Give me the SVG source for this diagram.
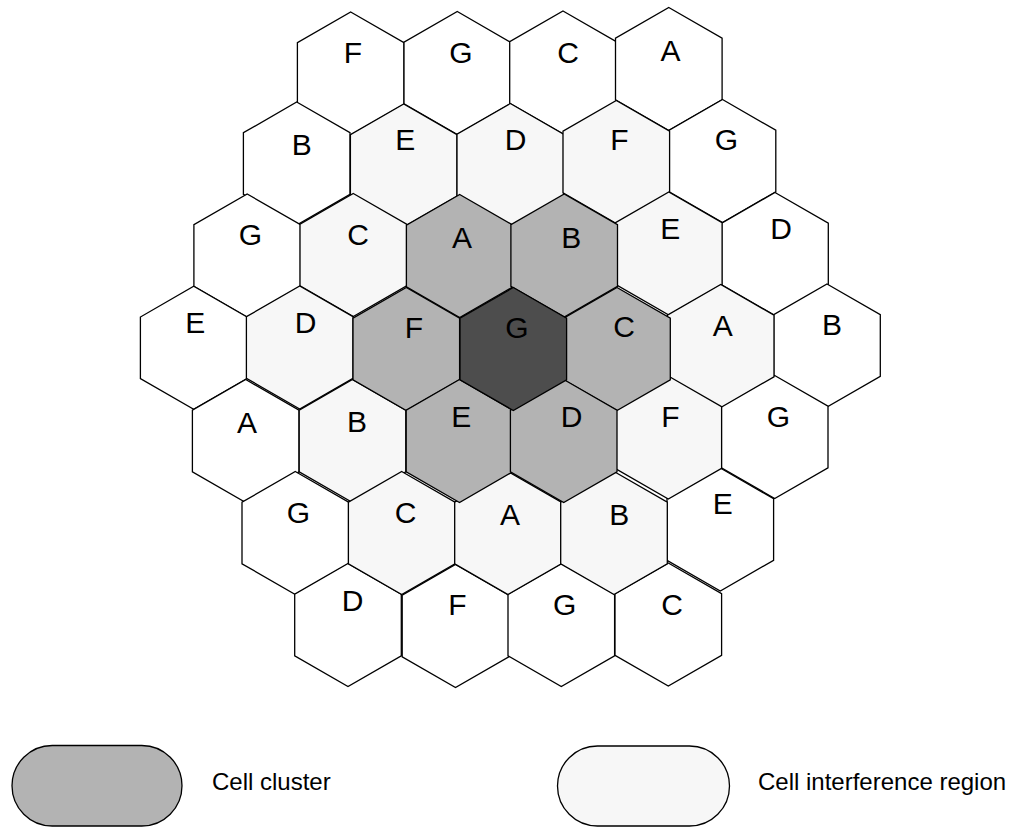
<svg xmlns="http://www.w3.org/2000/svg" width="1010" height="827" viewBox="0 0 1010 827">
<style>
.h{stroke:#000;stroke-width:1.3;stroke-linejoin:miter}
.w{fill:#ffffff}
.l{fill:#f7f7f7}
.c{fill:#b3b3b3}
.d{fill:#4d4d4d}
.t{font-family:"Liberation Sans",Arial,sans-serif;font-size:30px;fill:#000;text-anchor:middle}
.lg{font-family:"Liberation Sans",Arial,sans-serif;font-size:24px;fill:#000}
</style>
<defs>
<polygon id="hex" points="0,-61.5 53.3,-30.75 53.3,30.75 0,61.5 -53.3,30.75 -53.3,-30.75"/>
</defs>
<rect width="1010" height="827" fill="#fff"/>
<g id="cells-outer">
<g id="r0-F"><use href="#hex" class="h w" x="350.7" y="73.5"/><text class="t" x="352.8" y="63.3">F</text></g>
<g id="r0-G"><use href="#hex" class="h w" x="457.3" y="73"/><text class="t" x="460.8" y="63.3">G</text></g>
<g id="r0-C"><use href="#hex" class="h w" x="563" y="72.5"/><text class="t" x="568.2" y="63.3">C</text></g>
<g id="r0-A"><use href="#hex" class="h w" x="668.8" y="69"/><text class="t" x="670.5" y="61">A</text></g>
<g id="r1-B"><use href="#hex" class="h w" x="296.7" y="163.5"/><text class="t" x="301.7" y="155">B</text></g>
<g id="r1-G"><use href="#hex" class="h w" x="722.5" y="161"/><text class="t" x="726.3" y="150">G</text></g>
<g id="r2-G"><use href="#hex" class="h w" x="247.2" y="255.5"/><text class="t" x="250.3" y="245">G</text></g>
<g id="r2-D"><use href="#hex" class="h w" x="775" y="254"/><text class="t" x="781" y="239.3">D</text></g>
<g id="r3-E"><use href="#hex" class="h w" x="193.7" y="347.8"/><text class="t" x="195.3" y="333.3">E</text></g>
<g id="r3-B"><use href="#hex" class="h w" x="827" y="345.5"/><text class="t" x="832" y="335">B</text></g>
<g id="r4-A"><use href="#hex" class="h w" x="245.7" y="441"/><text class="t" x="247" y="432.7">A</text></g>
<g id="r4-G"><use href="#hex" class="h w" x="774.7" y="437"/><text class="t" x="778.3" y="427.3">G</text></g>
<g id="r5-G"><use href="#hex" class="h w" x="295.3" y="533"/><text class="t" x="298.3" y="522.7">G</text></g>
<g id="r5-E"><use href="#hex" class="h w" x="720.3" y="529.5"/><text class="t" x="722.8" y="514">E</text></g>
<g id="r6-D"><use href="#hex" class="h w" x="348" y="625"/><text class="t" x="352.5" y="610.7">D</text></g>
<g id="r6-F"><use href="#hex" class="h w" x="455.5" y="626"/><text class="t" x="457.5" y="615">F</text></g>
<g id="r6-G"><use href="#hex" class="h w" x="561.3" y="625"/><text class="t" x="564.7" y="615">G</text></g>
<g id="r6-C"><use href="#hex" class="h w" x="668.3" y="624.5"/><text class="t" x="672.2" y="615">C</text></g>
</g>
<g id="cells-interference">
<g id="r1-E"><use href="#hex" class="h l" x="403.7" y="165.5"/><text class="t" x="405.3" y="150">E</text></g>
<g id="r1-D"><use href="#hex" class="h l" x="510.3" y="165"/><text class="t" x="515.5" y="150">D</text></g>
<g id="r1-F"><use href="#hex" class="h l" x="616.3" y="162"/><text class="t" x="619.5" y="150">F</text></g>
<g id="r2-C"><use href="#hex" class="h l" x="353.3" y="255"/><text class="t" x="358.2" y="245">C</text></g>
<g id="r2-E"><use href="#hex" class="h l" x="668.8" y="253.5"/><text class="t" x="670.3" y="239.3">E</text></g>
<g id="r3-D"><use href="#hex" class="h l" x="299.7" y="347.5"/><text class="t" x="305.7" y="333.3">D</text></g>
<g id="r3-A"><use href="#hex" class="h l" x="720.7" y="346"/><text class="t" x="722.8" y="336">A</text></g>
<g id="r4-B"><use href="#hex" class="h l" x="352.5" y="441"/><text class="t" x="357" y="432.3">B</text></g>
<g id="r4-F"><use href="#hex" class="h l" x="668.3" y="437.5"/><text class="t" x="670.5" y="427.3">F</text></g>
<g id="r5-C"><use href="#hex" class="h l" x="401.7" y="533"/><text class="t" x="405.5" y="522.7">C</text></g>
<g id="r5-A"><use href="#hex" class="h l" x="508" y="533"/><text class="t" x="510" y="525">A</text></g>
<g id="r5-B"><use href="#hex" class="h l" x="614" y="533"/><text class="t" x="619.2" y="525">B</text></g>
</g>
<g id="cells-cluster">
<g id="r2-A"><use href="#hex" class="h c" x="459.7" y="256"/><text class="t" x="462" y="248.3">A</text></g>
<g id="r2-B"><use href="#hex" class="h c" x="564.2" y="255.5"/><text class="t" x="571.2" y="248.3">B</text></g>
<g id="r3-F"><use href="#hex" class="h c" x="406.3" y="349"/><text class="t" x="413.8" y="337.7">F</text></g>
<g id="r3-C"><use href="#hex" class="h c" x="617" y="349"/><text class="t" x="624.2" y="336.7">C</text></g>
<g id="r4-E"><use href="#hex" class="h c" x="459.5" y="441"/><text class="t" x="461.3" y="427.3">E</text></g>
<g id="r4-D"><use href="#hex" class="h c" x="563.7" y="441"/><text class="t" x="571.7" y="427.3">D</text></g>
<g id="r3-G"><use href="#hex" class="h d" x="513.3" y="349"/><text class="t" x="517" y="338.3">G</text></g>
</g>
<g id="connectors"/>
<g id="legend-cluster">
<rect x="12" y="745.5" width="170" height="80.5" rx="40.25" class="h c"/>
<text class="lg" x="212" y="790">Cell cluster</text>
</g>
<g id="legend-interference">
<rect x="557.5" y="746" width="172" height="80" rx="40" class="h l"/>
<text class="lg" x="758" y="790">Cell interference region</text>
</g>
</svg>
